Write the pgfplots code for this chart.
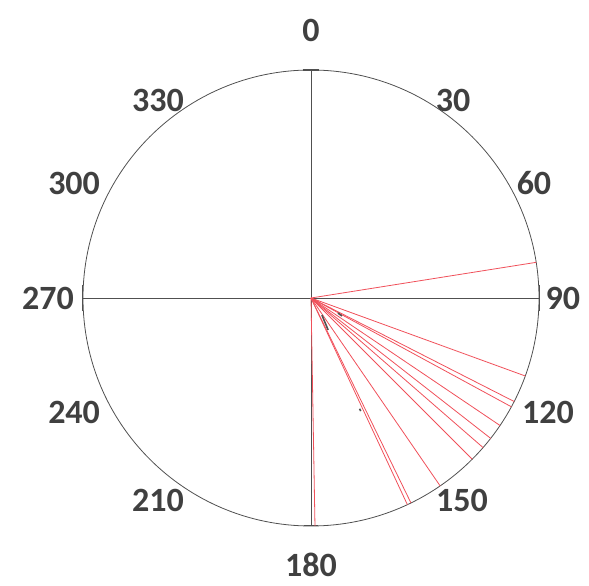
\documentclass[border=0pt]{standalone}
\usepackage{fontspec}
\setmainfont{Carlito}
\usepackage{pgfplots}
\usepackage{pgfplotstable}
\pgfplotsset{compat=1.18}
\definecolor{lab}{HTML}{404040}
\definecolor{axl}{HTML}{505050}
\definecolor{ray}{HTML}{F0505A}
\pgfplotstableread{
x y b
0 0 81
0 0 110
0 0 117
0 0 118.5
0 0 124
0 0 128
0 0 131
0 0 135
0 0 145.5
0 0 154
0 0 155
0 0 179
}\bearings
\begin{document}
\begin{tikzpicture}
\begin{axis}[
  scale only axis, width=456pt, height=456pt,
  xmin=-1, xmax=1, ymin=-1, ymax=1,
  enlargelimits=false, hide axis, clip=false,
]
% circle and cross axes
\draw[axl, line width=0.8pt] (axis cs:0,0) circle[radius=228pt];
\draw[axl, line width=0.7pt] (axis cs:-1,0) -- (axis cs:1,0);
\draw[axl, line width=0.7pt] (axis cs:0,-1) -- (axis cs:0,1);
\draw[axl, line width=1.2pt] (axis cs:-0.035,1) -- (axis cs:0.035,1);
\draw[axl, line width=1.0pt] (axis cs:-0.03,-1) -- (axis cs:0.03,-1);
\draw[axl, line width=1.0pt] (axis cs:1,-0.055) -- (axis cs:1,0.055);
\draw[axl, line width=1.0pt] (axis cs:-1,-0.055) -- (axis cs:-1,0.055);
% rays
\addplot[ray, line width=0.8pt, quiver={u=sin(\thisrow{b}), v=cos(\thisrow{b})}]
  table[x=x, y=y] {\bearings};
% small dark marks near centre
\addplot[axl, line width=1.6pt] coordinates {(0.118,-0.066) (0.136,-0.079)};
\addplot[axl, line width=1.6pt] coordinates {(0.048,-0.075) (0.075,-0.140)};
\addplot[axl, line width=1.6pt] coordinates {(0.213,-0.486) (0.218,-0.496)};
% labels
\begin{scope}[every node/.style={text=lab, font=\fontsize{34}{40}\selectfont\bfseries, inner sep=0pt}]
\node at (axis cs:0,1.175) {0};
\node at (axis cs:0.623,0.868) {30};
\node at (axis cs:0.978,0.504) {60};
\node at (axis cs:1.105,0) {90};
\node at (axis cs:1.039,-0.504) {120};
\node at (axis cs:0.662,-0.886) {150};
\node at (axis cs:0,-1.17) {180};
\node at (axis cs:-0.671,-0.886) {210};
\node at (axis cs:-1.039,-0.504) {240};
\node at (axis cs:-1.154,0) {270};
\node at (axis cs:-1.039,0.504) {300};
\node at (axis cs:-0.671,0.868) {330};
\end{scope}
\end{axis}
\pgfresetboundingbox
\path ([xshift=-311pt,yshift=298pt]current axis.center) rectangle ([xshift=278pt,yshift=-288pt]current axis.center);
\end{tikzpicture}
\end{document}
